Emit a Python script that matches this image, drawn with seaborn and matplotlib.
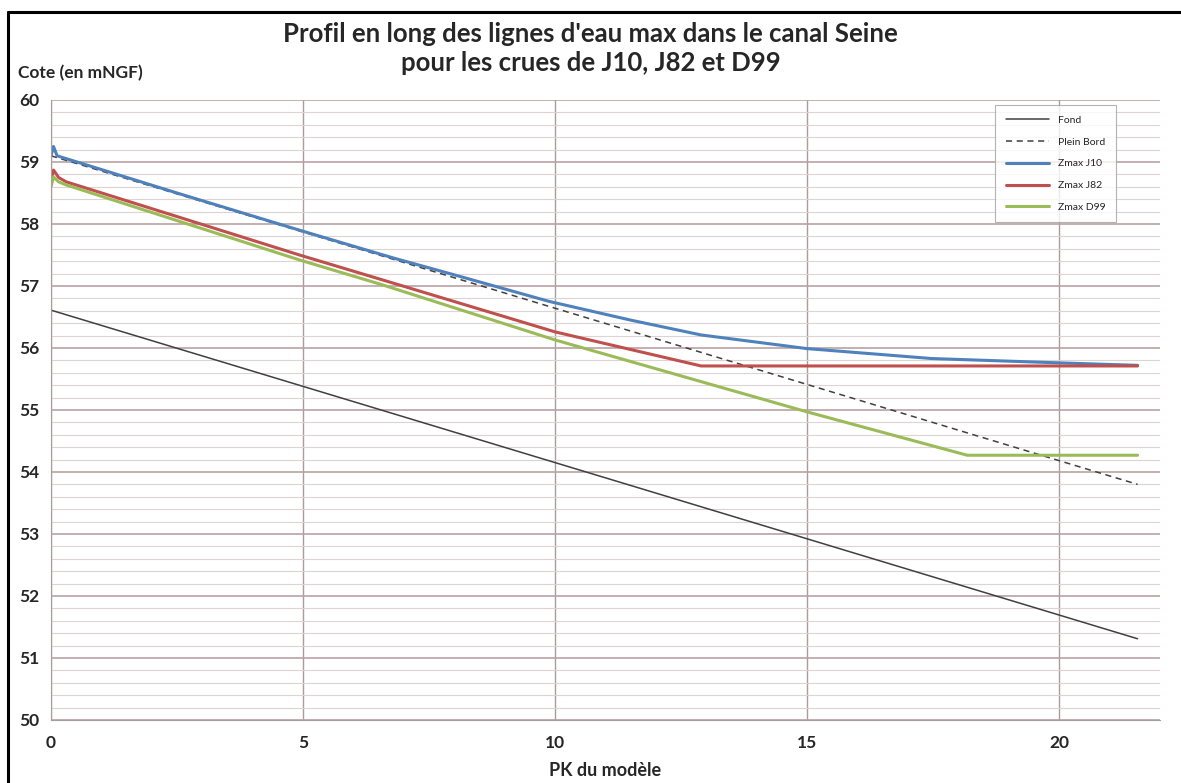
import numpy as np
import pandas as pd
import matplotlib
matplotlib.use("Agg")
import matplotlib.pyplot as plt
from matplotlib.lines import Line2D
from matplotlib.ticker import MultipleLocator
import seaborn as sns

# PK (km) and water levels (mNGF)
fond_x = [0.0, 21.56]
fond_z = [56.61, 51.31]

bord_x = [0.0, 21.56]
bord_z = [59.10, 53.80]

j10_x = [0.0, 0.05, 0.12, 2.5, 4.93, 6.8, 8.0, 9.89, 11.5, 12.9, 15.0, 17.47, 20.0, 21.56]
j10_z = [59.10, 59.25, 59.10, 58.50, 57.90, 57.45, 57.18, 56.75, 56.45, 56.21, 55.99, 55.83, 55.76, 55.72]

j82_x = [0.0, 0.05, 0.15, 0.3, 2.5, 4.93, 6.57, 10.0, 12.9, 21.56]
j82_z = [58.70, 58.87, 58.75, 58.68, 58.12, 57.50, 57.10, 56.26, 55.71, 55.71]

d99_x = [0.0, 0.05, 0.15, 0.3, 4.93, 6.57, 10.0, 15.0, 18.18, 21.56]
d99_z = [58.60, 58.76, 58.68, 58.63, 57.42, 57.02, 56.13, 54.97, 54.27, 54.27]

series = [
    ("Fond", fond_x, fond_z, "#404040", 1.1, "-"),
    ("Plein Bord", bord_x, bord_z, "#404040", 1.1, (0, (4, 3))),
    ("Zmax J10", j10_x, j10_z, "#4f81bd", 2.2, "-"),
    ("Zmax J82", j82_x, j82_z, "#c0504d", 2.2, "-"),
    ("Zmax D99", d99_x, d99_z, "#9bbb59", 2.2, "-"),
]

sns.set_style("white")
plt.rcParams["font.family"] = ["Lato", "DejaVu Sans"]

fig = plt.figure(figsize=(11.81, 7.83), dpi=100)
ax = fig.add_axes([0.0432, 0.0805, 0.9388, 0.7918])

for name, xs, zs, col, lw, ls in series:
    df = pd.DataFrame({"PK": xs, "Z": zs})
    sns.lineplot(data=df, x="PK", y="Z", ax=ax, color=col, linewidth=lw,
                 linestyle=ls, label=name, estimator=None, sort=False)

ax.set_xlim(0, 22)
ax.set_ylim(50, 60)
ax.xaxis.set_major_locator(MultipleLocator(5))
ax.yaxis.set_major_locator(MultipleLocator(1))
ax.yaxis.set_minor_locator(MultipleLocator(0.2))

ax.grid(which="major", axis="y", color="#b9a3a3", linewidth=1.2)
ax.grid(which="minor", axis="y", color="#ddd3d3", linewidth=0.8)
ax.grid(which="major", axis="x", color="#a89c9c", linewidth=1.0)
ax.set_axisbelow(True)

for s in ["top", "right"]:
    ax.spines[s].set_visible(False)
ax.spines["left"].set_color("#a89c9c")
ax.spines["bottom"].set_color("#a89c9c")

ax.tick_params(axis="both", which="major", direction="out", length=5,
               color="#a89c9c", labelsize=12.5)
ax.tick_params(axis="y", which="minor", length=0)
ax.tick_params(axis="x", pad=6)
for lab in ax.get_xticklabels() + ax.get_yticklabels():
    lab.set_fontweight("bold")

ax.set_xlabel("PK du modèle", fontsize=13, fontweight="bold", labelpad=8)
ax.set_ylabel("")

fig.text(0.015, 0.906, "Cote (en mNGF)", fontsize=12.5, fontweight="bold",
         ha="left", va="center")
fig.text(0.5, 0.956, "Profil en long des lignes d'eau max dans le canal Seine",
         fontsize=18.5, fontweight="bold", ha="center", va="center")
fig.text(0.5, 0.919, "pour les crues de J10, J82 et D99",
         fontsize=18.5, fontweight="bold", ha="center", va="center")

leg = ax.legend(loc="upper right", bbox_to_anchor=(0.965, 1.0), fontsize=7.5,
                frameon=True, fancybox=False, edgecolor="#a0a0a0",
                handlelength=4.2, labelspacing=1.2, borderpad=1.0)
leg.get_frame().set_linewidth(0.8)

# figure frame on the left and top
fig.add_artist(Line2D([0.007, 0.007], [0.0, 0.985], transform=fig.transFigure,
                      color="black", linewidth=2.2))
fig.add_artist(Line2D([0.007, 1.0], [0.985, 0.985], transform=fig.transFigure,
                      color="black", linewidth=2.2))

fig.savefig("out.png", dpi=100)
plt.close(fig)
